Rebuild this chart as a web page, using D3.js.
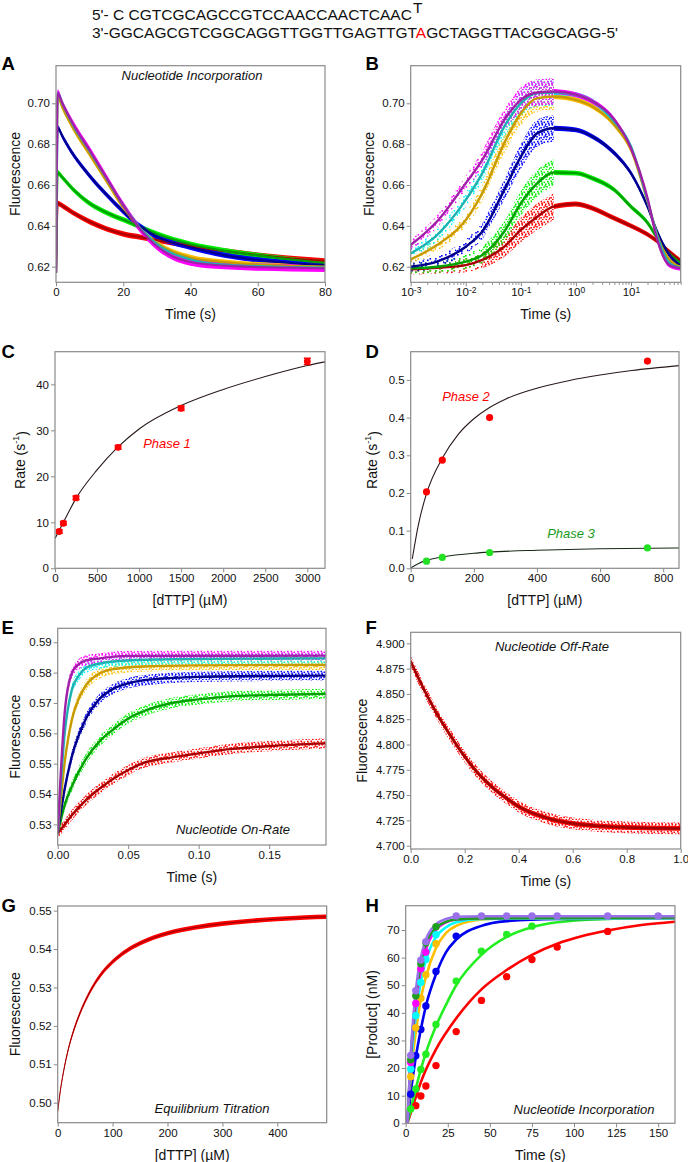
<!DOCTYPE html>
<html><head><meta charset="utf-8">
<script src="https://cdn.jsdelivr.net/npm/d3@7"></script>
<style>
body{margin:0;background:#fff;}
svg{font-family:"Liberation Sans",Arial,sans-serif;}
</style></head><body>
<svg id="fig" width="688" height="1162"></svg>
<script>
// ---------------- DATA ----------------
const seqTop = "5'- C CGTCGCAGCCGTCCAACCAACTCAAC";
const seqTopOverhang = "T";
const seqBottomA = "3'-GGCAGCGTCGGCAGGTTGGTTGAGTTGT";
const seqBottomMark = "A";
const seqBottomB = "GCTAGGTTACGGCAGG-5'";

const seriesNames = ["red","green","blue","gold","cyan","magenta"];

// Panel A: time (s) vs fluorescence (fit centre lines)
const aRed     = [[0,0.617],[0.5,0.651],[2,0.6497],[5,0.6465],[10,0.642],[15,0.6385],[20,0.636],[25,0.6345],[30,0.633],[40,0.6302],[50,0.6277],[60,0.6257],[70,0.624],[80,0.6228]];
const aGreen   = [[0,0.617],[0.5,0.666],[2,0.6635],[5,0.658],[10,0.651],[15,0.6465],[20,0.643],[25,0.6395],[30,0.636],[40,0.631],[50,0.6278],[60,0.6255],[70,0.6235],[80,0.6218]];
const aBlue    = [[0,0.617],[0.5,0.688],[2,0.6835],[5,0.6752],[10,0.6645],[15,0.6553],[20,0.647],[25,0.6398],[30,0.6347],[40,0.6295],[50,0.6257],[60,0.6233],[70,0.6218],[80,0.6208]];
const aGold    = [[0,0.617],[0.5,0.703],[2,0.6975],[5,0.688],[10,0.675],[15,0.662],[20,0.649],[25,0.6388],[30,0.6315],[40,0.6245],[50,0.6222],[60,0.621],[70,0.6204],[80,0.620]];
const aCyan    = [[0,0.617],[0.5,0.705],[2,0.6995],[5,0.6895],[10,0.6765],[15,0.6632],[20,0.650],[25,0.639],[30,0.631],[40,0.6235],[50,0.621],[60,0.6203],[70,0.6198],[80,0.6195]];
const aMagenta = [[0,0.617],[0.5,0.705],[2,0.6995],[5,0.690],[10,0.677],[15,0.6635],[20,0.650],[25,0.6385],[30,0.630],[35,0.6248],[40,0.6223],[50,0.6205],[60,0.6198],[70,0.6195],[80,0.6192]];
const aNoise   = [0.0013,0.0013,0.0013,0.0013,0.0013,0.0018];

// Panel B: log time
const bTimes   = [0.001,0.003,0.01,0.02,0.05,0.1,0.2,0.4,1,2,5,10,20,30,50,80];
const bRed     = [0.6187,0.6195,0.6208,0.6233,0.6298,0.638,0.6445,0.6495,0.6507,0.6486,0.6437,0.640,0.6358,0.6325,0.6272,0.6228];
const bGreen   = [0.6192,0.620,0.6225,0.6257,0.6372,0.651,0.6609,0.6661,0.6658,0.6633,0.6576,0.6494,0.6415,0.634,0.6262,0.6218];
const bBlue    = [0.620,0.6225,0.6298,0.6372,0.6576,0.6739,0.6854,0.6878,0.687,0.6837,0.6756,0.6658,0.6494,0.637,0.6257,0.6203];
const bGold    = [0.6236,0.6306,0.6429,0.656,0.6805,0.6951,0.7025,0.7033,0.7017,0.6984,0.6894,0.6772,0.652,0.6355,0.6233,0.620];
const bCyan    = [0.6265,0.6355,0.6527,0.6658,0.6886,0.700,0.705,0.7053,0.7042,0.701,0.691,0.6788,0.6525,0.635,0.6218,0.6194];
const bMagenta = [0.6306,0.6421,0.6609,0.6723,0.6919,0.7017,0.7053,0.7058,0.7042,0.7009,0.6919,0.678,0.6535,0.6331,0.6208,0.6192];
const bNoiseEarly = [0.0025,0.003,0.0035,0.004,0.005,0.006,0.0065,0.0065]; // scatter half-width up to 0.4 s
const bNoiseLate  = 0.0012;

// Panel C: phase 1 rate vs [dTTP]
const cConc = [50,100,250,750,1500,3000];
const cRate = [8.0,9.8,15.3,26.3,34.8,45.0];
const cErr  = [0.4,0.4,0.4,0.4,0.5,0.7];
const cFit  = [[0,6.5],[100,10],[250,15.2],[500,21.4],[750,26.4],[1000,30.3],[1500,35.4],[2000,38.9],[2500,41.7],[3000,44.1],[3210,44.9]];

// Panel D: phase 2 / phase 3 rates
const dConc   = [50,100,250,750];
const dPhase2 = [0.203,0.287,0.40,0.55];
const dPhase3 = [0.019,0.029,0.042,0.054];
const dFit2   = [[5,0.025],[25,0.118],[50,0.198],[100,0.292],[150,0.355],[200,0.397],[250,0.427],[300,0.449],[400,0.478],[500,0.498],[600,0.513],[700,0.525],[850,0.538]];
const dFit3   = [[0,0.001],[25,0.013],[50,0.021],[100,0.030],[200,0.040],[250,0.043],[400,0.048],[600,0.052],[850,0.054]];

// Panel E: nucleotide on-rate
const eRed     = [[0,0.527],[0.005,0.530],[0.01,0.533],[0.02,0.538],[0.03,0.5419],[0.04,0.5452],[0.05,0.5479],[0.06,0.5501],[0.08,0.552],[0.1,0.5534],[0.12,0.5547],[0.15,0.5558],[0.19,0.5567]];
const eGreen   = [[0,0.527],[0.005,0.5364],[0.01,0.5425],[0.02,0.5515],[0.03,0.5575],[0.04,0.5615],[0.05,0.5649],[0.06,0.5671],[0.08,0.5699],[0.1,0.5712],[0.12,0.5721],[0.15,0.5726],[0.19,0.573]];
const eBlue    = [[0,0.527],[0.005,0.5418],[0.01,0.5523],[0.02,0.5648],[0.03,0.5715],[0.04,0.5748],[0.05,0.5765],[0.07,0.5779],[0.1,0.5786],[0.15,0.5789],[0.19,0.579]];
const eGold    = [[0,0.527],[0.005,0.5506],[0.01,0.5644],[0.015,0.5715],[0.02,0.5758],[0.03,0.5798],[0.04,0.5812],[0.06,0.582],[0.1,0.5824],[0.19,0.5825]];
const eCyan    = [[0,0.527],[0.005,0.5602],[0.01,0.5743],[0.015,0.579],[0.02,0.5815],[0.03,0.583],[0.05,0.584],[0.08,0.5844],[0.19,0.5847]];
const eMagenta = [[0,0.527],[0.005,0.567],[0.01,0.5798],[0.015,0.5828],[0.02,0.584],[0.03,0.5847],[0.05,0.5855],[0.19,0.5856]];
const eNoise   = 0.0017;

// Panel F: off-rate
const fRed   = [[0,4.882],[0.05,4.8539],[0.1,4.8291],[0.15,4.8077],[0.2,4.788],[0.25,4.7715],[0.3,4.7583],[0.35,4.7477],[0.4,4.7385],[0.5,4.7277],[0.6,4.722],[0.7,4.7194],[0.8,4.7181],[1.0,4.717]];
const fNoise = 0.0058;

// Panel G: equilibrium titration
const gRed   = [[0,0.4977],[5,0.5033],[10,0.5076],[20,0.5143],[30,0.5192],[40,0.5231],[50,0.5264],[60,0.5292],[70,0.5316],[80,0.5336],[100,0.5367],[125,0.5395],[150,0.5415],[200,0.5441],[250,0.5456],[300,0.5466],[350,0.5473],[400,0.5478],[450,0.5482],[490,0.5484]];
const gNoise = 0.0006;

// Panel H: product vs time, 8 series
const hNames = ["red","green","blue","gold","cyan","magenta","dkgreen","purple"];
const hRedPts     = [[6,6.4],[9,9.9],[12,13.5],[18,20.9],[30,33.2],[45,44.5],[60,53.1],[75,59.3],[90,63.8],[120,69.5]];
const hGreenPts   = [[3,5.2],[6,12.4],[9,19.5],[12,25],[18,35.8],[30,51.5],[45,62.3],[60,68.4],[75,71.4]];
const hBluePts    = [[3,10.5],[6,24.5],[9,34],[12,42.5],[18,55],[30,67.8]];
const hGoldPts    = [[3,16.9],[6,34.6],[9,45.3],[12,53.8],[18,65]];
const hCyanPts    = [[3,19.7],[6,39],[9,51],[12,59.3],[18,68.3]];
const hMagentaPts = [[3,22],[6,43.4],[9,56],[12,62]];
const hDkGreenPts = [[3,23],[6,46.2],[9,57.8],[12,65.4],[18,71.2]];
const hPurplePts  = [[3,24.6],[6,48],[9,59.1],[12,65.8],[30,75.1],[45,75.1],[60,75.1],[75,75.1],[90,75.1],[120,75.1],[150,75.1]];
const hRedFit     = [[1,0],[3,3.8],[6,9.5],[10,16.5],[18,26.8],[30,38],[45,48.5],[60,55.5],[75,61],[90,65],[105,67.8],[120,69.8],[140,71.8],[160,73]];
const hGreenFit   = [[1,0],[3,5],[6,12.5],[9,19.5],[12,25.5],[18,35.2],[24,43],[30,50],[45,61],[60,67.5],[75,71],[90,72.8],[120,74],[160,74.5]];
const hBlueFit    = [[1,0],[3,11],[6,24],[9,34],[12,42.5],[18,54],[24,62],[30,66.5],[45,71.5],[60,73.2],[90,74],[160,74.2]];
const hGoldFit    = [[1,0],[3,17],[6,33],[9,45],[12,53],[18,63.5],[24,69],[30,71.5],[45,73.8],[60,74.2],[160,74.3]];
const hCyanFit    = [[1,0],[3,20],[6,39],[9,51.5],[12,59],[18,67.5],[24,71],[30,72.8],[45,74],[160,74.3]];
const hMagentaFit = [[1,0],[3,23],[6,43],[9,55.5],[12,63],[18,70],[24,72.8],[30,73.8],[45,74.3],[160,74.5]];
const hDkGreenFit = [[1,0],[3,24],[6,46],[9,58],[12,65],[18,70.8],[24,73],[30,73.8],[45,74.2],[160,74.5]];
const hPurpleFit  = [[1,0],[3,25],[6,48],[9,60],[12,66.5],[18,72],[24,74],[30,74.8],[45,75],[160,75]];

// Tick labels
const aXTicks = [0,20,40,60,80], aYTicks = [0.62,0.64,0.66,0.68,0.70];
const bXTicks = [0.001,0.01,0.1,1,10];
const cXTicks = [0,500,1000,1500,2000,2500,3000], cYTicks = [0,10,20,30,40];
const dXTicks = [0,200,400,600,800], dYTicks = [0,0.1,0.2,0.3,0.4,0.5];
const eXTicks = [0,0.05,0.10,0.15], eYTicks = [0.53,0.54,0.55,0.56,0.57,0.58,0.59];
const fXTicks = [0,0.2,0.4,0.6,0.8,1.0], fYTicks = [4.700,4.725,4.750,4.775,4.800,4.825,4.850,4.875,4.900];
const gXTicks = [0,100,200,300,400], gYTicks = [0.50,0.51,0.52,0.53,0.54,0.55];
const hXTicks = [0,25,50,75,100,125,150], hYTicks = [0,10,20,30,40,50,60,70];

// ---------------- STYLE ----------------
const FONT = '"Liberation Sans", Arial, sans-serif';
const frameColor = "#8a8a8a";
const dataColor = {red:"#ff0000",green:"#00ee00",blue:"#0000ff",gold:"#ffbf00",cyan:"#00ffff",magenta:"#ff00ff"};
const lineColor = {red:"#a80000",green:"#00a000",blue:"#00008c",gold:"#c79a00",cyan:"#1fb0b0",magenta:"#a020a8"};
const hColor = {red:"#ff0000",green:"#22ee22",blue:"#0000ee",gold:"#ffbf00",cyan:"#00ffff",magenta:"#ff00ff",dkgreen:"#1e9e1e",purple:"#9a70ea"};

const svg = d3.select("#fig");
const defs = svg.append("defs");

// speckle textures (styling only) used to render scattered data clouds
const speckleSparse = [[1,2],[5,0.5],[9,3],[3,6],[7,7.5],[11,9.5],[0.5,10],[5,10.5],[9.5,6],[2.5,8.2],[7.2,4]];
const speckleDense  = [[0.5,0.5],[3.5,1.5],[7,0.8],[1.5,4],[5,3.5],[8.5,4.2],[0.3,7],[3.2,6.6],[6.2,6],[9,7.5],[2,9],[5.5,8.8],[7.8,2.5],[4.5,5.2],[8.2,9.3],[1.2,2.4]];
function dotPattern(id, color, dense) {
  const size = dense ? 10 : 12;
  const p = defs.append("pattern").attr("id", id).attr("patternUnits","userSpaceOnUse")
    .attr("width", size).attr("height", size);
  (dense ? speckleDense : speckleSparse).forEach(([x,y]) =>
    p.append("rect").attr("x",x).attr("y",y).attr("width",1.6).attr("height",1.6).attr("fill",color));
}
seriesNames.forEach(n => { dotPattern("sp-"+n, dataColor[n], false); dotPattern("dn-"+n, dataColor[n], true); });

// ---------------- TITLE SEQUENCE ----------------
const seqG = svg.append("g").attr("font-family", FONT).attr("font-size", 15.5).attr("fill", "#111");
const t1 = seqG.append("text").attr("x", 92).attr("y", 20);
t1.append("tspan").text(seqTop);
t1.append("tspan").attr("dy", -7).attr("dx", 1).text(seqTopOverhang);
const t2 = seqG.append("text").attr("x", 92).attr("y", 38);
t2.append("tspan").text(seqBottomA);
t2.append("tspan").attr("fill", "#ff0000").text(seqBottomMark);
t2.append("tspan").text(seqBottomB);

// ---------------- PANEL BUILDER ----------------
let clipN = 0;
function panel(c) {
  const x = (c.xLog ? d3.scaleLog() : d3.scaleLinear()).domain(c.xDomain).range([c.left, c.right]);
  const y = d3.scaleLinear().domain(c.yDomain).range([c.bottom, c.top]);
  const g = svg.append("g");
  const id = "clip" + (clipN++);
  defs.append("clipPath").attr("id", id).append("rect")
    .attr("x", c.left).attr("y", c.top).attr("width", c.right - c.left).attr("height", c.bottom - c.top);
  const plot = g.append("g").attr("clip-path", `url(#${id})`);

  const xa = d3.axisBottom(x).tickValues(c.xTicks).tickSize(4).tickPadding(2).tickFormat(c.xFmt || (d => d));
  const xg = g.append("g").attr("transform", `translate(0,${c.bottom})`).call(xa);
  const ya = d3.axisLeft(y).tickValues(c.yTicks).tickSize(4).tickPadding(2).tickFormat(c.yFmt || (d => d));
  const yg = g.append("g").attr("transform", `translate(${c.left},0)`).call(ya);
  if (c.minorX) {
    const mg = g.append("g").attr("transform", `translate(0,${c.bottom})`)
      .call(d3.axisBottom(x).tickValues(c.minorX).tickSize(2.5).tickFormat(() => ""));
    mg.select(".domain").remove();
    mg.selectAll(".tick line").attr("stroke", frameColor);
  }
  [xg, yg].forEach(a => {
    a.attr("font-family", FONT).attr("font-size", 11.5);
    a.select(".domain").remove();
    a.selectAll(".tick line").attr("stroke", frameColor);
    a.selectAll(".tick text").attr("fill", "#111");
  });
  if (c.xLog) {
    xg.selectAll(".tick text").each(function(d) {
      const t = d3.select(this);
      t.text("10");
      t.append("tspan").attr("dy", "-0.45em").attr("font-size", "8.5px").text(Math.round(Math.log10(d)));
    });
  }
  g.append("rect").attr("x", c.left).attr("y", c.top)
    .attr("width", c.right - c.left).attr("height", c.bottom - c.top)
    .attr("fill", "none").attr("stroke", frameColor).attr("stroke-width", 1.2);

  g.append("text").attr("x", (c.left + c.right) / 2).attr("y", c.bottom + 37)
    .attr("text-anchor", "middle").attr("font-family", FONT).attr("font-size", 14).attr("fill", "#111")
    .text(c.xTitle);
  const yt = g.append("text").attr("transform", `translate(${c.yTitleX},${(c.top + c.bottom) / 2}) rotate(-90)`)
    .attr("text-anchor", "middle").attr("dominant-baseline", "central")
    .attr("font-family", FONT).attr("font-size", 14).attr("fill", "#111");
  if (c.yTitleSup) {
    yt.append("tspan").text(c.yTitle);
    yt.append("tspan").attr("dy", "-0.45em").attr("font-size", "9px").text(c.yTitleSup);
    yt.append("tspan").attr("dy", "0.45em").text(")");
  } else yt.text(c.yTitle);
  g.append("text").attr("x", c.letterX).attr("y", c.letterY).attr("font-family", FONT)
    .attr("font-weight", "bold").attr("font-size", 18.5).attr("fill", "#000").text(c.letter);
  return { x, y, plot, g };
}

function note(p, text, x, y, color) {
  p.g.append("text").attr("x", x).attr("y", y).attr("text-anchor", "middle")
    .attr("font-family", FONT).attr("font-style", "italic").attr("font-size", 13)
    .attr("fill", color || "#111").text(text);
}
function lineGen(p) {
  return d3.line().x(d => p.x(d[0])).y(d => p.y(d[1])).curve(d3.curveMonotoneX);
}
// half-width: a number, or taken from d[2] when present
function bandGen(p, hw) {
  const w = d => (d.length > 2 ? d[2] : hw);
  return d3.area().x(d => p.x(d[0]))
    .y0(d => p.y(d[1] - w(d)))
    .y1(d => p.y(d[1] + w(d)))
    .curve(d3.curveMonotoneX);
}

const minorLog = [];
[-3,-2,-1,0,1].forEach(e => { for (let k = 2; k <= 9; k++) { const v = k * Math.pow(10, e); if (v <= 80) minorLog.push(v); } });

// ---------------- PANEL A ----------------
const pA = panel({left:56, top:65.7, right:325, bottom:282.3, xDomain:[0,80], yDomain:[0.61236,0.7184],
  xTicks:aXTicks, yTicks:aYTicks, yFmt:d3.format(".2f"), xTitle:"Time (s)", yTitle:"Fluorescence", yTitleX:15,
  letter:"A", letterX:1.5, letterY:70});
const aSeries = [aRed, aGreen, aBlue, aGold, aCyan, aMagenta];
aSeries.forEach((s, i) => pA.plot.append("path").attr("d", bandGen(pA, aNoise[i])(s)).attr("fill", dataColor[seriesNames[i]]));
aSeries.forEach((s, i) => pA.plot.append("path").attr("d", lineGen(pA)(s)).attr("fill", "none")
  .attr("stroke", lineColor[seriesNames[i]]).attr("stroke-width", 2.2));
note(pA, "Nucleotide Incorporation", 192, 80);

// ---------------- PANEL B ----------------
const pB = panel({left:410.7, top:65.7, right:680.7, bottom:282.3, xLog:true, xDomain:[0.001,80], yDomain:[0.61236,0.7184],
  xTicks:bXTicks, minorX:minorLog, yTicks:aYTicks, yFmt:d3.format(".2f"), xTitle:"Time (s)", yTitle:"Fluorescence", yTitleX:369,
  letter:"B", letterX:365.5, letterY:70});
const bSeries = [bRed, bGreen, bBlue, bGold, bCyan, bMagenta];
bSeries.forEach((vals, i) => {
  const pts = bTimes.map((t, k) => [t, vals[k], k < bNoiseEarly.length ? bNoiseEarly[k] : bNoiseLate]);
  const veryEarly = pts.filter(d => d[0] <= 0.02);
  const early = pts.filter(d => d[0] >= 0.02 && d[0] <= 0.4);
  const late = pts.filter(d => d[0] >= 0.4).map((d, k) => [d[0], d[1], bNoiseLate]);
  pB.plot.append("path").attr("d", bandGen(pB)(veryEarly)).attr("fill", `url(#sp-${seriesNames[i]})`);
  pB.plot.append("path").attr("d", bandGen(pB)(early)).attr("fill", `url(#dn-${seriesNames[i]})`);
  pB.plot.append("path").attr("d", bandGen(pB)(late)).attr("fill", dataColor[seriesNames[i]]);
});
bSeries.forEach((vals, i) => pB.plot.append("path").attr("d", lineGen(pB)(d3.zip(bTimes, vals))).attr("fill", "none")
  .attr("stroke", lineColor[seriesNames[i]]).attr("stroke-width", 2.4));

// ---------------- PANEL C ----------------
const pC = panel({left:55, top:351.7, right:325, bottom:568.3, xDomain:[0,3210], yDomain:[0,47.1],
  xTicks:cXTicks, yTicks:cYTicks, xTitle:"[dTTP] (\u00b5M)", yTitle:"Rate (s", yTitleSup:"-1", yTitleX:20,
  letter:"C", letterX:1.5, letterY:358});
pC.plot.append("path").attr("d", lineGen(pC)(cFit)).attr("fill", "none").attr("stroke", "#2a1a1a").attr("stroke-width", 1.1);
cConc.forEach((cx, i) => {
  const px = pC.x(cx), y1 = pC.y(cRate[i] - cErr[i]), y2 = pC.y(cRate[i] + cErr[i]);
  pC.plot.append("line").attr("x1", px).attr("x2", px).attr("y1", y1).attr("y2", y2).attr("stroke", "#ff0000").attr("stroke-width", 1.5);
  [y1, y2].forEach(yy => pC.plot.append("line").attr("x1", px - 3.5).attr("x2", px + 3.5).attr("y1", yy).attr("y2", yy).attr("stroke", "#ff0000").attr("stroke-width", 1.5));
  pC.plot.append("circle").attr("cx", px).attr("cy", pC.y(cRate[i])).attr("r", 3.4).attr("fill", "#ff0000");
});
note(pC, "Phase 1", 167, 448, "#ff0000");

// ---------------- PANEL D ----------------
const pD = panel({left:410.7, top:351.7, right:679, bottom:568.3, xDomain:[0,850], yDomain:[0,0.575],
  xTicks:dXTicks, yTicks:dYTicks, yFmt:d3.format(".1f"), xTitle:"[dTTP] (\u00b5M)", yTitle:"Rate (s", yTitleSup:"-1", yTitleX:372,
  letter:"D", letterX:365.5, letterY:358});
pD.plot.append("path").attr("d", lineGen(pD)(dFit2)).attr("fill", "none").attr("stroke", "#2a1a1a").attr("stroke-width", 1.1);
pD.plot.append("path").attr("d", lineGen(pD)(dFit3)).attr("fill", "none").attr("stroke", "#1a2a1a").attr("stroke-width", 1.1);
dConc.forEach((cx, i) => {
  pD.plot.append("circle").attr("cx", pD.x(cx)).attr("cy", pD.y(dPhase2[i])).attr("r", 3.6).attr("fill", "#ff0000");
  pD.plot.append("circle").attr("cx", pD.x(cx)).attr("cy", pD.y(dPhase3[i])).attr("r", 3.6).attr("fill", "#22e022");
});
note(pD, "Phase 2", 466, 401, "#ff0000");
note(pD, "Phase 3", 571, 538, "#1a9a1a");

// ---------------- PANEL E ----------------
const pE = panel({left:57.7, top:628.3, right:326, bottom:845, xDomain:[0,0.1903], yDomain:[0.5232,0.5946],
  xTicks:eXTicks, yTicks:eYTicks, xFmt:d3.format(".2f"), yFmt:d3.format(".2f"), xTitle:"Time (s)", yTitle:"Fluorescence", yTitleX:15,
  letter:"E", letterX:1.5, letterY:633.5});
const eSeries = [eRed, eGreen, eBlue, eGold, eCyan, eMagenta];
eSeries.forEach((s, i) => pE.plot.append("path").attr("d", bandGen(pE, eNoise)(s)).attr("fill", `url(#dn-${seriesNames[i]})`));
eSeries.forEach((s, i) => pE.plot.append("path").attr("d", lineGen(pE)(s)).attr("fill", "none")
  .attr("stroke", lineColor[seriesNames[i]]).attr("stroke-width", 2.4));
note(pE, "Nucleotide On-Rate", 233, 834);

// ---------------- PANEL F ----------------
const pF = panel({left:410.7, top:632.3, right:680.7, bottom:849, xDomain:[0,1], yDomain:[4.6967,4.9109],
  xTicks:fXTicks, yTicks:fYTicks, xFmt:d3.format(".1f"), yFmt:d3.format(".3f"), xTitle:"Time (s)", yTitle:"Fluorescence", yTitleX:362,
  letter:"F", letterX:365.5, letterY:633.5});
pF.plot.append("path").attr("d", bandGen(pF, fNoise)(fRed)).attr("fill", "url(#dn-red)");
pF.plot.append("path").attr("d", bandGen(pF, fNoise * 0.4)(fRed)).attr("fill", "#ff0000");
pF.plot.append("path").attr("d", lineGen(pF)(fRed)).attr("fill", "none").attr("stroke", "#a00000").attr("stroke-width", 2.6);
note(pF, "Nucleotide Off-Rate", 552, 651);

// ---------------- PANEL G ----------------
const pG = panel({left:57.7, top:906, right:326.7, bottom:1122.7, xDomain:[0,490], yDomain:[0.4948,0.5512],
  xTicks:gXTicks, yTicks:gYTicks, yFmt:d3.format(".2f"), xTitle:"[dTTP] (\u00b5M)", yTitle:"Fluorescence", yTitleX:15,
  letter:"G", letterX:1.5, letterY:911.5});
pG.plot.append("path").attr("d", bandGen(pG, gNoise)(gRed)).attr("fill", "#ff0000");
pG.plot.append("path").attr("d", lineGen(pG)(gRed)).attr("fill", "none").attr("stroke", "#800000").attr("stroke-width", 0.9);
note(pG, "Equilibrium Titration", 212, 1113);

// ---------------- PANEL H ----------------
const pH = panel({left:405.7, top:905.7, right:675, bottom:1123.3, xDomain:[0,160], yDomain:[0,78.8],
  xTicks:hXTicks, yTicks:hYTicks, xTitle:"Time (s)", yTitle:"[Product] (nM)", yTitleX:372,
  letter:"H", letterX:365.5, letterY:911.5});
const hFits = [hRedFit, hGreenFit, hBlueFit, hGoldFit, hCyanFit, hMagentaFit, hDkGreenFit, hPurpleFit];
const hPts = [hRedPts, hGreenPts, hBluePts, hGoldPts, hCyanPts, hMagentaPts, hDkGreenPts, hPurplePts];
hFits.forEach((s, i) => pH.plot.append("path").attr("d", lineGen(pH)(s)).attr("fill", "none")
  .attr("stroke", hColor[hNames[i]]).attr("stroke-width", 2.6));
hPts.forEach((s, i) => s.forEach(d => pH.plot.append("circle").attr("cx", pH.x(d[0])).attr("cy", pH.y(d[1]))
  .attr("r", 3.7).attr("fill", hColor[hNames[i]])));
note(pH, "Nucleotide Incorporation", 584, 1114);
</script>
</body></html>
